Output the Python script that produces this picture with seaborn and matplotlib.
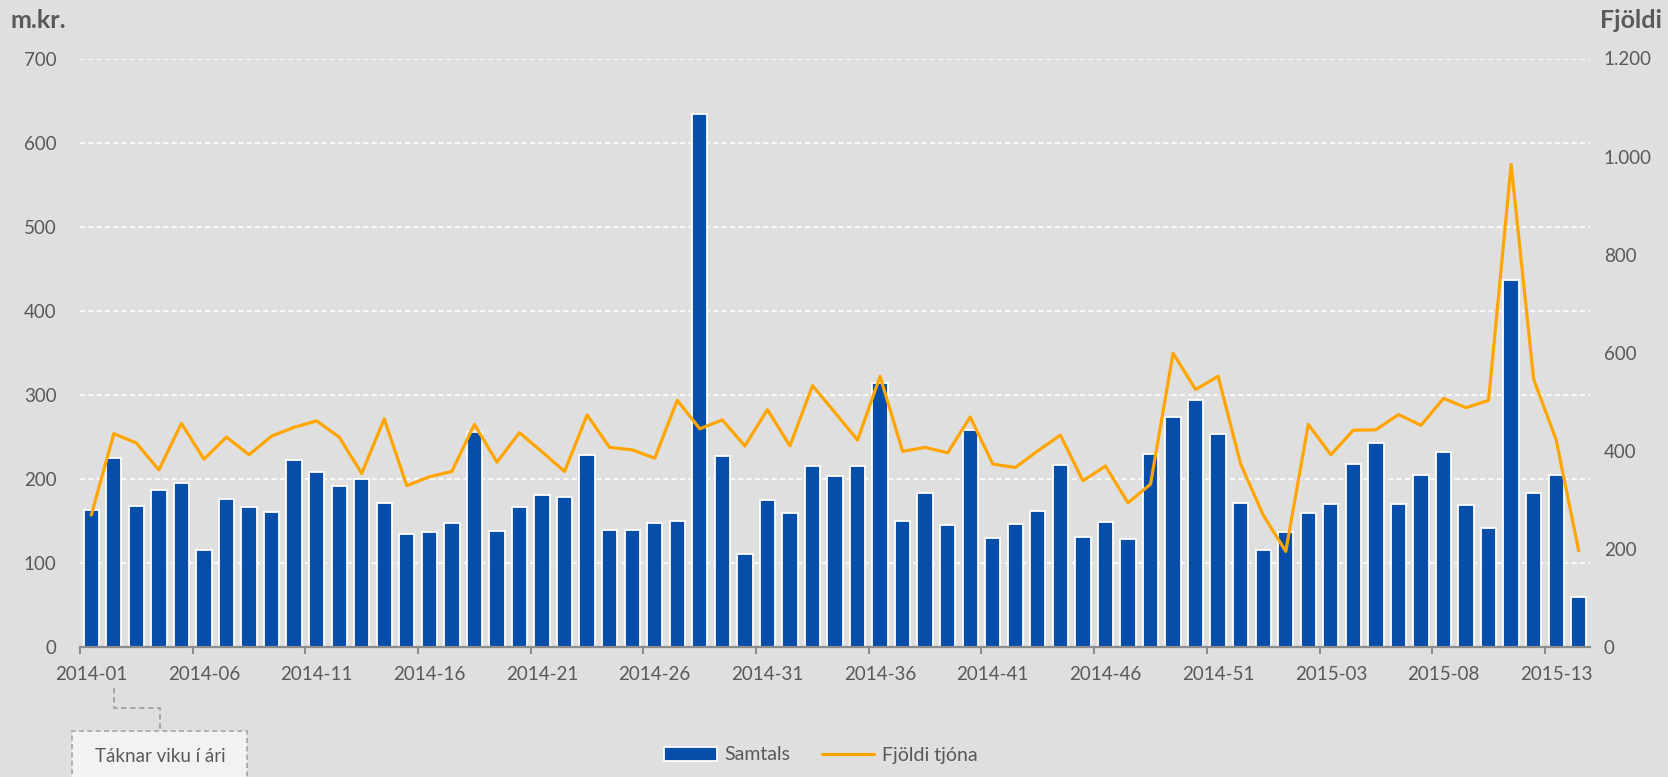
# Tjón eftir vikum: samtals fjárhæð (m.kr.) og fjöldi tjóna
import numpy as np
import pandas as pd
import matplotlib
matplotlib.use("Agg")
import matplotlib.pyplot as plt
from matplotlib.patches import Patch, FancyBboxPatch
from matplotlib.lines import Line2D
import seaborn as sns

# --- data ---
weeks = [f"2014-{w:02d}" for w in range(1, 54)] + [f"2015-{w:02d}" for w in range(1, 15)]

samtals = [163, 225, 168, 187, 195, 115, 176, 166, 161, 223,
           208, 192, 200, 171, 134, 137, 148, 256, 138, 167,
           181, 179, 228, 139, 139, 147, 150, 634, 227, 111,
           175, 159, 215, 203, 215, 314, 150, 183, 145, 258,
           130, 146, 162, 217, 131, 149, 129, 229, 274, 294,
           253, 171, 115, 137, 159, 170, 218, 243, 170, 204,
           232, 169, 142, 437, 183, 204, 59]

fjoldi = [269, 435, 416, 361, 456, 383, 428, 392, 430, 448,
          461, 428, 354, 465, 329, 347, 358, 454, 377, 437,
          398, 358, 473, 407, 402, 385, 503, 445, 463, 410,
          484, 410, 533, 478, 422, 552, 399, 407, 396, 469,
          373, 366, 400, 432, 339, 369, 294, 332, 599, 525,
          552, 373, 269, 195, 454, 392, 442, 443, 474, 452,
          507, 488, 503, 984, 546, 422, 196]

left_ticks = [0, 100, 200, 300, 400, 500, 600, 700]
right_ticks = [0, 200, 400, 600, 800, 1000, 1200]

df = pd.DataFrame({"week": weeks, "samtals": samtals, "fjoldi": fjoldi})
df["pos"] = np.arange(len(df))

# --- style ---
bg = "#DFDFDF"
blue = "#074DAA"
orange = "#FFA500"
txt = "#595959"

sns.set_theme(style="white")
plt.rcParams["font.family"] = ["Lato", "DejaVu Sans"]

fig = plt.figure(figsize=(16.68, 7.77), dpi=100, facecolor=bg)
ax = fig.add_axes([80 / 1668, 130 / 777, 1510 / 1668, 588.5 / 777])
ax.set_facecolor(bg)

# bars
sns.barplot(data=df, x="week", y="samtals", ax=ax, color=blue, saturation=1,
            width=0.68, edgecolor="white", linewidth=1.3, zorder=2)

ax.set_ylim(0, 700)
ax.set_yticks(left_ticks)
ax.set_axisbelow(True)
ax.yaxis.grid(True, color="white", linestyle=(0, (3, 2)), linewidth=1.2)
ax.xaxis.grid(False)

# line on the secondary axis
ax2 = ax.twinx()
sns.lineplot(data=df, x="pos", y="fjoldi", ax=ax2, color=orange, linewidth=2.3)
ax2.set_ylim(0, 1200)
ax2.set_yticks(right_ticks)
ax2.set_yticklabels([f"{v:,}".replace(",", ".") for v in right_ticks])
ax2.grid(False)

ax.set_xlim(-0.5, len(df) - 0.5)
ax.set_xticks(df["pos"][::5])
ax.set_xticklabels(df["week"][::5])
ax.set_xticks(np.arange(-0.5, len(df), 5), minor=True)

for a in (ax, ax2):
    for s in a.spines.values():
        s.set_visible(False)
    a.set_xlabel("")
    a.set_ylabel("")
ax.spines["bottom"].set_visible(True)
ax.spines["bottom"].set_color("#8C8C8C")
ax.spines["bottom"].set_linewidth(1.6)

ax.tick_params(axis="x", which="major", length=0, pad=14, labelsize=13.5, labelcolor=txt)
ax.tick_params(axis="x", which="minor", length=5, width=1.5, color="#8C8C8C", bottom=True)
ax.tick_params(axis="y", length=0, pad=17, labelsize=13.5, labelcolor=txt)
ax2.tick_params(axis="y", length=0, pad=10, labelsize=13.5, labelcolor=txt)

# axis titles
fig.text(11 / 1668, 1 - 20 / 777, "m.kr.", fontsize=18, fontweight="bold", color=txt,
         ha="left", va="center")
fig.text(1600 / 1668, 1 - 20 / 777, "Fjöldi", fontsize=18, fontweight="bold", color=txt,
         ha="left", va="center")

# legend
handles = [Patch(facecolor=blue, edgecolor="white", linewidth=1.3, label="Samtals"),
           Line2D([0], [0], color=orange, linewidth=2.3, label="Fjöldi tjóna")]
fig.legend(handles=handles, loc="center", bbox_to_anchor=(821 / 1668, 1 - 755 / 777),
           ncol=2, frameon=False, fontsize=14, labelcolor=txt, handlelength=2.7,
           handletextpad=0.4, columnspacing=1.6)

# note box below the first label
W, H = 1668, 777
conn = Line2D([114 / W, 114 / W, 160 / W, 160 / W],
              [1 - 688 / H, 1 - 708 / H, 1 - 708 / H, 1 - 731 / H],
              transform=fig.transFigure, color="#A0A0A0", linewidth=1.3,
              linestyle=(0, (3, 2)))
fig.add_artist(conn)
box = FancyBboxPatch((72 / W, -0.02), 175 / W, (777 - 731) / H + 0.02,
                     boxstyle="square,pad=0", transform=fig.transFigure,
                     facecolor="#F2F2F2", edgecolor="#A6A6A6", linewidth=1.2,
                     linestyle=(0, (3, 2)))
fig.add_artist(box)
fig.text(160 / W, 1 - 756 / H, "Táknar viku í ári", fontsize=13.5, color=txt,
         ha="center", va="center")

fig.savefig("out.png", dpi=100, facecolor=bg)
